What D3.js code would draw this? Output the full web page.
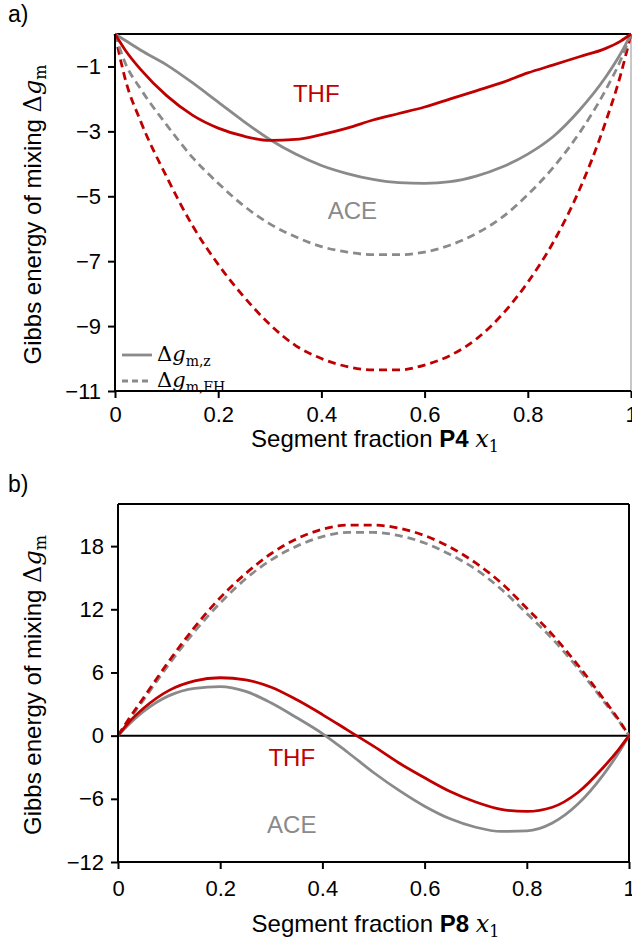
<!DOCTYPE html>
<html>
<head>
<meta charset="utf-8">
<script src="https://cdn.jsdelivr.net/npm/d3@7"></script>
<style>
  body { margin: 0; background: #fff; }
  svg { display: block; }
  .tick text { font-family: "Liberation Sans", Arial, sans-serif; font-size: 22px; fill: #000; }
</style>
</head>
<body>
<svg id="chart" width="632" height="946"></svg>
<script>
// segment fraction x1
var xsA = [0, 0.02, 0.05, 0.1, 0.15, 0.2, 0.25, 0.3, 0.35, 0.4, 0.45, 0.5, 0.55, 0.6, 0.65, 0.7, 0.75, 0.8, 0.85, 0.9, 0.95, 0.98, 1];
// panel a) P4
var aThfZ  = [0, -0.5, -1.1, -1.9, -2.5, -2.9, -3.15, -3.28, -3.25, -3.1, -2.9, -2.65, -2.45, -2.25, -2.0, -1.75, -1.5, -1.2, -0.95, -0.7, -0.45, -0.22, 0];
var aAceZ  = [0, -0.2, -0.5, -0.95, -1.5, -2.1, -2.7, -3.25, -3.7, -4.05, -4.3, -4.48, -4.58, -4.6, -4.55, -4.38, -4.1, -3.7, -3.15, -2.35, -1.35, -0.6, 0];
var aAceFH = [0, -0.9, -1.7, -2.8, -3.8, -4.6, -5.3, -5.85, -6.25, -6.55, -6.72, -6.8, -6.8, -6.72, -6.5, -6.15, -5.65, -4.95, -4.1, -3.05, -1.75, -0.8, 0];
var aThfFH = [0, -1.4, -2.7, -4.4, -5.9, -7.1, -8.1, -8.95, -9.6, -10.0, -10.25, -10.35, -10.35, -10.2, -9.9, -9.4, -8.65, -7.65, -6.4, -4.8, -2.75, -1.25, 0];

var xsB = [0, 0.02, 0.05, 0.1, 0.15, 0.2, 0.25, 0.3, 0.35, 0.4, 0.45, 0.5, 0.55, 0.6, 0.65, 0.7, 0.75, 0.8, 0.85, 0.9, 0.95, 0.98, 1];
// panel b) P8
var bThfZ  = [0, 1.2, 2.6, 4.3, 5.2, 5.5, 5.3, 4.6, 3.4, 2.0, 0.5, -1.0, -2.6, -4.0, -5.3, -6.3, -7.0, -7.2, -6.8, -5.4, -3.0, -1.3, 0];
var bAceZ  = [0, 1.0, 2.3, 3.8, 4.5, 4.65, 4.2, 3.1, 1.7, 0.2, -1.6, -3.5, -5.2, -6.7, -7.9, -8.7, -9.1, -9.05, -8.3, -6.5, -3.7, -1.6, 0];
var bAceFH = [0, 1.4, 3.4, 6.8, 9.9, 12.6, 14.9, 16.7, 18.0, 18.9, 19.3, 19.3, 19.0, 18.3, 17.2, 15.8, 13.9, 11.6, 9.2, 6.4, 3.3, 1.4, 0];
var bThfFH = [0, 1.5, 3.6, 7.1, 10.3, 13.1, 15.4, 17.3, 18.7, 19.6, 20.0, 20.0, 19.7, 19.0, 17.9, 16.4, 14.5, 12.1, 9.6, 6.7, 3.5, 1.5, 0];

var xTicks = [0, 0.2, 0.4, 0.6, 0.8, 1];
var aYTicks = [-11, -9, -7, -5, -3, -1];
var bYTicks = [-12, -6, 0, 6, 12, 18];

var RED = "#c00000", GRAY = "#8a8a8a";
var sans = "'Liberation Sans', Arial, sans-serif";
var serif = "'DejaVu Serif', 'Liberation Serif', serif";

var svg = d3.select("#chart");

function drawPanel(p) {
    var x = d3.scaleLinear().domain([0, 1]).range([p.left, p.right]);
    var y = d3.scaleLinear().domain(p.yDomain).range([p.bottom, p.top]);
    var g = svg.append("g");

    // frame
    g.append("line").attr("x1", p.left).attr("x2", p.right).attr("y1", p.top).attr("y2", p.top)
        .attr("stroke", "#000").attr("stroke-width", 2);
    g.append("line").attr("x1", p.right).attr("x2", p.right).attr("y1", p.top).attr("y2", p.bottom)
        .attr("stroke", p.rightColor).attr("stroke-width", 2);

    if (p.zeroLine) {
        g.append("line").attr("x1", p.left).attr("x2", p.right).attr("y1", y(0)).attr("y2", y(0))
            .attr("stroke", "#000").attr("stroke-width", 2);
    }

    var line = d3.line().x(function(d) { return x(d[0]); }).y(function(d) { return y(d[1]); })
        .curve(d3.curveMonotoneX);

    p.series.forEach(function(s) {
        g.append("path")
            .datum(p.xs.map(function(v, i) { return [v, s.values[i]]; }))
            .attr("fill", "none")
            .attr("stroke", s.color)
            .attr("stroke-width", 2.8)
            .attr("stroke-dasharray", s.dashed ? "8,5" : null)
            .attr("d", line);
    });

    var ya = g.append("g").attr("transform", "translate(" + p.left + ",0)")
        .call(d3.axisLeft(y).tickValues(p.yTicks).tickSize(7).tickPadding(7).tickFormat(d3.format("d")));
    ya.select(".domain").attr("stroke-width", 2).attr("d", "M0," + p.top + "V" + p.bottom);
    ya.selectAll(".tick line").attr("stroke-width", 2);

    var xa = g.append("g").attr("transform", "translate(0," + p.bottom + ")")
        .call(d3.axisBottom(x).tickValues(xTicks).tickSize(7).tickPadding(p.xPad).tickFormat(d3.format("")));
    xa.select(".domain").attr("stroke-width", 2).attr("d", "M" + p.left + ",0H" + p.right);
    xa.selectAll(".tick line").attr("stroke-width", 2);

    // panel letter
    svg.append("text").attr("x", 8).attr("y", p.top - 12)
        .attr("font-family", sans).attr("font-size", 23).text(p.letter);

    // y title
    var yt = svg.append("text")
        .attr("transform", "translate(" + 41 + "," + ((p.top + p.bottom) / 2 + 2) + ") rotate(-90)")
        .attr("text-anchor", "middle").attr("font-family", sans).attr("font-size", 24);
    yt.append("tspan").text("Gibbs energy of mixing ");
    yt.append("tspan").attr("font-family", serif).text("Δ");
    yt.append("tspan").attr("font-family", serif).attr("font-style", "italic").text("g");
    yt.append("tspan").attr("font-family", serif).attr("font-size", 16).attr("dy", 5).text("m");

    // x title
    var xt = svg.append("text").attr("x", (p.left + p.right) / 2 + 2).attr("y", p.bottom + p.titleOffset)
        .attr("text-anchor", "middle").attr("font-family", sans).attr("font-size", 24);
    xt.append("tspan").text("Segment fraction ");
    xt.append("tspan").attr("font-weight", "bold").text(p.polymer);
    xt.append("tspan").text(" ");
    xt.append("tspan").attr("font-family", serif).attr("font-style", "italic").text("x");
    xt.append("tspan").attr("font-family", serif).attr("font-size", 16).attr("dy", 5).text("1");

    p.labels.forEach(function(l) {
        svg.append("text").attr("x", x(l.x)).attr("y", y(l.y))
            .attr("text-anchor", "middle").attr("font-family", sans).attr("font-size", 24)
            .attr("fill", l.color).text(l.text);
    });

    return { x: x, y: y };
}

drawPanel({
    letter: "a)", polymer: "P4",
    left: 115, right: 631, top: 34, bottom: 391,
    yDomain: [-11, 0], yTicks: aYTicks, rightColor: "#c8c8c8", zeroLine: false,
    xPad: 8, titleOffset: 56,
    xs: xsA,
    series: [
        { values: aThfFH, color: RED, dashed: true },
        { values: aAceFH, color: GRAY, dashed: true },
        { values: aAceZ, color: GRAY, dashed: false },
        { values: aThfZ, color: RED, dashed: false }
    ],
    labels: [
        { text: "THF", x: 0.39, y: -2.1, color: RED },
        { text: "ACE", x: 0.46, y: -5.7, color: GRAY }
    ]
});

// legend in panel a
var legend = [
    { label: "z", dashed: false, y: 355 },
    { label: "FH", dashed: true, y: 381 }
];
legend.forEach(function(l) {
    svg.append("line").attr("x1", 122).attr("x2", 152).attr("y1", l.y).attr("y2", l.y)
        .attr("stroke", GRAY).attr("stroke-width", 2.8).attr("stroke-dasharray", l.dashed ? "6,4" : null);
    var t = svg.append("text").attr("x", 157).attr("y", l.y + 6).attr("font-family", serif).attr("font-size", 21);
    t.append("tspan").text("Δ");
    t.append("tspan").attr("font-style", "italic").text("g");
    t.append("tspan").attr("font-size", 14).attr("dy", 5).text("m," + l.label);
});

drawPanel({
    letter: "b)", polymer: "P8",
    left: 118, right: 629, top: 504, bottom: 862,
    yDomain: [-12, 22], yTicks: bYTicks, rightColor: "#000", zeroLine: true,
    xPad: 11, titleOffset: 70,
    xs: xsB,
    series: [
        { values: bAceFH, color: GRAY, dashed: true },
        { values: bThfFH, color: RED, dashed: true },
        { values: bAceZ, color: GRAY, dashed: false },
        { values: bThfZ, color: RED, dashed: false }
    ],
    labels: [
        { text: "THF", x: 0.34, y: -2.9, color: RED },
        { text: "ACE", x: 0.34, y: -9.2, color: GRAY }
    ]
});
</script>
</body>
</html>
